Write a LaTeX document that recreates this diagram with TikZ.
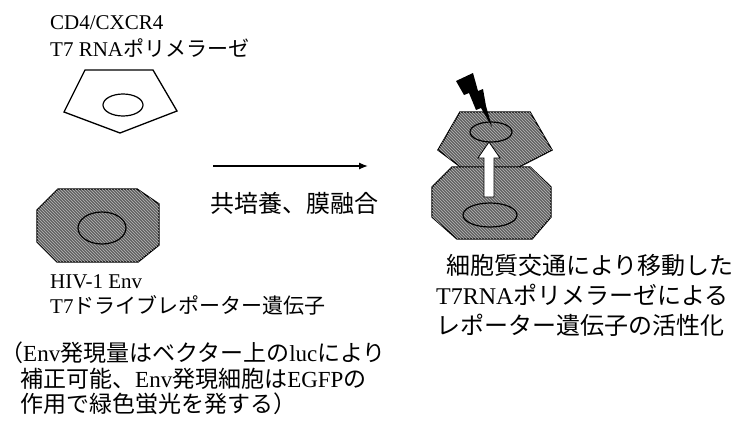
\documentclass[tikz,border=0pt]{standalone}
\usepackage{fontspec}
\setmainfont{Liberation Serif}
\newfontfamily\jp{Noto Sans CJK JP}
\usetikzlibrary{patterns,arrows.meta}

\tikzset{
  cell/.style={draw=black, line width=1.4pt, fill=black!62,
    postaction={pattern=north west lines, pattern color=black!28}},
  emptycell/.style={draw=black, line width=1.3pt},
  nucleus/.style={draw=black, line width=1.2pt},
  txt/.style={inner sep=0pt, anchor=base west},
  big/.style={txt, font=\fontsize{24}{30}\selectfont},
  mid/.style={txt, font=\fontsize{23}{28}\selectfont},
  small/.style={txt, font=\fontsize{21}{25}\selectfont}
}

\begin{document}
\begin{tikzpicture}[x=1pt, y=-1pt]
  \useasboundingbox (0,0) rectangle (746,423);

  % target cell (CD4/CXCR4)
  \node[small] (tgt1) at (50,29) {CD4/CXCR4};
  \node[small] (tgt2) at (50,56) {T7 RNA{\jp ポリメラーゼ}};
  \draw[emptycell] (85,70) -- (153,70) -- (177,111) -- (120,133) -- (64,112) -- cycle;
  \draw[nucleus] (123,105) ellipse (20 and 11);

  % effector cell (Env)
  \draw[cell] (58,189) -- (137,189) -- (159,204) -- (159,245) -- (138,262)
    -- (57,262) -- (37,242) -- (37,210) -- cycle;
  \draw[nucleus] (102,228) ellipse (24 and 16);
  \node[small] (eff1) at (50,288) {HIV-1 Env};
  \node[small] (eff2) at (50,313) {T7{\jp ドライブレポーター遺伝子}};

  % note
  \node[mid] (note1) at (0,361) {{\jp （}Env{\jp 発現量はベクター上の}luc{\jp により}};
  \node[mid] (note2) at (20,387) {{\jp 補正可能、}Env{\jp 発現細胞は}EGFP{\jp の}};
  \node[mid] (note3) at (20,412) {{\jp 作用で緑色蛍光を発する）}};

  % co-culture arrow
  \coordinate (from) at (213,166);
  \coordinate (to) at (368,166);
  \draw[line width=1.3pt, -{Latex[length=9pt,width=7pt]}] (from) -- (to);
  \node[big] (fuse) at (210,212) {\jp 共培養、膜融合};

  % fused cells
  \draw[cell] (460,112) -- (530,112) -- (552,150) -- (517,168) -- (462,168)
    -- (438,150) -- cycle;
  \draw[nucleus] (491,132) ellipse (21 and 10);
  \draw[cell] (452,167) -- (530,167) -- (551,187) -- (551,217) -- (532,239)
    -- (457,239) -- (432,217) -- (432,187) -- cycle;
  \draw[nucleus] (490,215) ellipse (27 and 12);
  % transfer arrow
  \draw[fill=white, line width=0.8pt] (484,197) -- (484,158) -- (478,158) -- (489,142)
    -- (500,158) -- (494,158) -- (494,197) -- cycle;
  % activation bolt
  \fill[black] (456,81) -- (473,73) -- (478,91) -- (483,89) -- (486,106) -- (492,127)
    -- (481,108) -- (476,110) -- (469,93) -- (464,95) -- cycle;

  \node[big] (res1) at (446,274) {\jp 細胞質交通により移動した};
  \node[big] (res2) at (436,304) {T7RNA{\jp ポリメラーゼによる}};
  \node[big] (res3) at (436,334) {\jp レポーター遺伝子の活性化};
\end{tikzpicture}
\end{document}
